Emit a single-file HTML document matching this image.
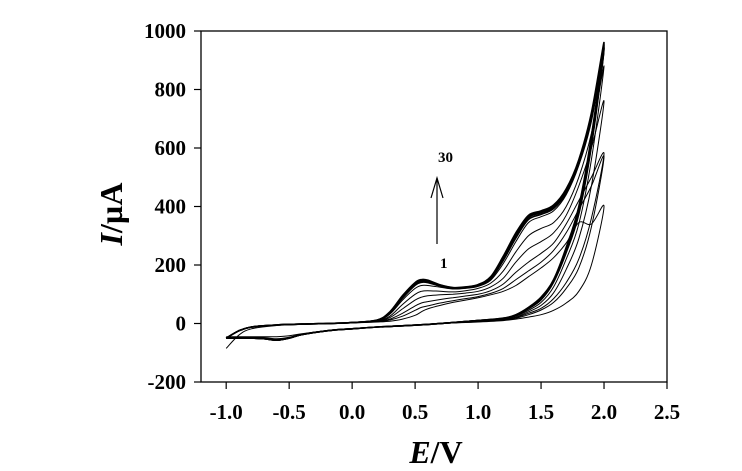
<!DOCTYPE html>
<html><head><meta charset="utf-8"><style>
body{margin:0;background:#fff}
svg{display:block;font-family:"Liberation Serif",serif;font-weight:bold}
</style></head><body>
<svg id="chart" width="742" height="471">
<g id="axes"></g>
<g id="curves" fill="none" stroke="#000" stroke-width="1"></g>
<text x="438" y="162" font-size="15">30</text>
<text x="440" y="268" font-size="15">1</text>
<g stroke="#000" fill="none" stroke-width="1.2">
<line x1="437" y1="244" x2="437" y2="178"/><polyline points="431,198 437,178 443,198"/></g>
<text x="122" y="214" font-size="32" text-anchor="middle" transform="rotate(-90 122 214)"><tspan font-style="italic">I</tspan>/µA</text>
<text x="436" y="463" font-size="32" text-anchor="middle"><tspan font-style="italic">E</tspan>/V</text>
</svg>
<script>
const xTicks=[-1.0,-0.5,0.0,0.5,1.0,1.5,2.0,2.5];
const xTickLabels=["-1.0","-0.5","0.0","0.5","1.0","1.5","2.0","2.5"];
const yTicks=[-200,0,200,400,600,800,1000];
const yTickLabels=["-200","0","200","400","600","800","1000"];
const Ef=[-1.0,-0.9,-0.8,-0.6,-0.4,-0.2,0.0,0.2,0.3,0.4,0.5,0.55,0.6,0.7,0.8,0.9,1.0,1.1,1.2,1.3,1.4,1.5,1.6,1.7,1.8,1.9,2.0];
const Er=[2.0,1.9,1.8,1.7,1.6,1.5,1.4,1.3,1.2,1.0,0.8,0.6,0.4,0.2,0.0,-0.2,-0.4,-0.5,-0.6,-0.7,-0.8,-0.9,-1.0];
const cycleNames=["cycle-1","cycle-2","cycle-3","cycle-5","cycle-8","cycle-12","cycle-16","cycle-20","cycle-25","cycle-30"];
const fwd1=[-85,-40,-18,-7,-3,0,2,5,8,15,28,40,50,62,72,80,88,98,110,130,160,190,225,275,345,340,400];
const fwd2=[-50,-25,-12,-5,-2,0,3,6,12,25,45,55,60,70,78,85,92,103,120,150,180,210,250,310,390,470,570];
const fwd3=[-50,-25,-12,-5,-2,0,3,7,15,35,60,70,75,82,88,94,100,112,135,175,210,240,275,340,420,500,580];
const fwd5=[-50,-25,-12,-5,-2,0,3,8,20,50,80,90,95,98,100,104,110,125,155,210,255,280,310,370,470,600,760];
const fwd8=[-50,-25,-12,-5,-2,0,3,9,25,65,100,110,112,110,108,112,120,138,180,245,300,325,345,400,500,650,880];
const fwd12=[-50,-25,-12,-5,-2,0,3,10,32,80,120,130,130,124,118,120,127,148,205,280,345,365,385,440,540,690,930];
const fwd16=[-50,-25,-12,-5,-2,0,3,11,36,87,131,141,140,128,120,122,129,152,216,293,356,373,393,446,546,700,940];
const fwd20=[-50,-25,-12,-5,-2,0,3,11,38,90,135,145,143,130,121,123,130,155,222,300,362,378,398,450,550,705,945];
const fwd25=[-50,-25,-12,-5,-2,0,3,12,39,93,138,148,146,131,122,124,132,158,226,305,366,382,402,455,555,712,952];
const fwd30=[-50,-25,-12,-5,-2,0,3,12,40,95,140,150,148,132,123,125,133,160,230,310,370,385,405,460,560,720,960];
const rev1=[400,200,110,70,45,30,22,15,10,5,2,-3,-8,-12,-18,-25,-35,-42,-45,-45,-45,-45,-45];
const rev2=[570,330,190,120,72,46,30,18,12,6,2,-3,-8,-12,-18,-25,-37,-47,-52,-48,-47,-47,-48];
const rev3=[580,360,220,140,85,52,35,20,13,7,3,-3,-8,-12,-18,-25,-37,-48,-54,-50,-48,-48,-49];
const rev5=[760,470,290,185,105,62,40,22,14,8,3,-3,-8,-12,-18,-25,-38,-49,-55,-51,-49,-49,-50];
const rev8=[880,560,340,220,125,72,45,25,15,9,3,-3,-8,-12,-18,-25,-38,-50,-56,-52,-50,-50,-50];
const rev12=[930,600,370,240,140,80,50,27,16,10,3,-3,-8,-12,-18,-25,-38,-50,-57,-52,-50,-50,-50];
const rev16=[940,612,380,246,143,83,51,28,17,10,3,-3,-8,-12,-18,-25,-38,-50,-57,-52,-50,-50,-50];
const rev20=[945,620,385,250,145,85,52,28,17,10,3,-3,-8,-12,-18,-25,-38,-50,-57,-52,-50,-50,-50];
const rev25=[952,630,392,255,148,88,54,29,18,10,3,-3,-8,-12,-18,-25,-38,-50,-57,-52,-50,-50,-50];
const rev30=[960,640,400,260,150,90,55,30,18,10,3,-3,-8,-12,-18,-25,-38,-50,-57,-52,-50,-50,-50];
const forwards=[fwd1,fwd2,fwd3,fwd5,fwd8,fwd12,fwd16,fwd20,fwd25,fwd30];
const reverses=[rev1,rev2,rev3,rev5,rev8,rev12,rev16,rev20,rev25,rev30];

const L=201,R=667,T=31,B=382;
const xs=v=>L+(v-(-1.2))/(3.7)*(R-L);
const ys=v=>B-(v-(-200))/1200*(B-T);
const NS="http://www.w3.org/2000/svg";
function mk(tag,attrs,parent){const e=document.createElementNS(NS,tag);for(const k in attrs)e.setAttribute(k,attrs[k]);parent.appendChild(e);return e;}
const ax=document.getElementById('axes');
const frame=mk('rect',{x:L,y:T,width:R-L,height:B-T,fill:'none',stroke:'#000','stroke-width':1.3},ax);


xTicks.forEach((t,i)=>{const x=xs(t);
 const tk=mk('line',{x1:x,y1:B,x2:x,y2:B+7,stroke:'#000','stroke-width':1.2},ax);
 
 
 const lb=mk('text',{x:x,y:B+37,'font-size':21,'text-anchor':'middle'},ax);lb.textContent=xTickLabels[i];
 
 });
yTicks.forEach((t,i)=>{const y=ys(t);
 const tk=mk('line',{x1:L-7,y1:y,x2:L,y2:y,stroke:'#000','stroke-width':1.2},ax);
 
 
 const lb=mk('text',{x:186,y:y+7,'font-size':21,'text-anchor':'end'},ax);lb.textContent=yTickLabels[i];
 
 });
function spline(pts){let d='M'+pts[0][0].toFixed(1)+','+pts[0][1].toFixed(1);
 for(let i=0;i<pts.length-1;i++){const p0=pts[Math.max(i-1,0)],p1=pts[i],p2=pts[i+1],p3=pts[Math.min(i+2,pts.length-1)];
  const c1=[p1[0]+(p2[0]-p0[0])/6,p1[1]+(p2[1]-p0[1])/6],c2=[p2[0]-(p3[0]-p1[0])/6,p2[1]-(p3[1]-p1[1])/6];
  d+='C'+c1[0].toFixed(1)+','+c1[1].toFixed(1)+' '+c2[0].toFixed(1)+','+c2[1].toFixed(1)+' '+p2[0].toFixed(1)+','+p2[1].toFixed(1);}
 return d;}
const cg=document.getElementById('curves');
forwards.forEach((f,k)=>{
 const pts=Ef.map((e,i)=>[xs(e),ys(f[i])]).concat(Er.slice(1).map((e,i)=>[xs(e),ys(reverses[k][i+1])]));
 const p=mk('path',{d:spline(pts),'stroke-width':k>=6?1.6:1},cg);
 
 });
</script>
</body></html>
